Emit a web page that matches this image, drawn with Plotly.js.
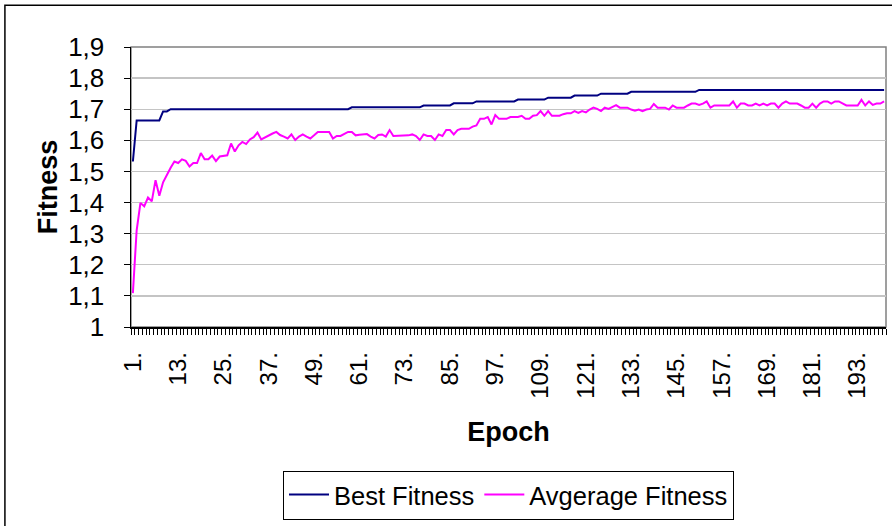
<!DOCTYPE html>
<html>
<head>
<meta charset="utf-8">
<script src="https://cdn.plot.ly/plotly-3.0.1.min.js"></script>
<style>
html,body{margin:0;padding:0;background:#fff;}
#chart{width:892px;height:526px;}
</style>
</head>
<body>
<div id="chart"></div>
<script>
const epochs = Array.from({length: 200}, (_, i) => i + 1);

const bestFitness = [
1.532,1.664,1.664,1.664,1.664,1.664,1.664,1.664,1.693,1.693,
1.700,1.700,1.700,1.700,1.700,1.700,1.700,1.700,1.700,1.700,
1.700,1.700,1.700,1.700,1.700,1.700,1.700,1.700,1.700,1.700,
1.700,1.700,1.700,1.700,1.700,1.700,1.700,1.700,1.700,1.700,
1.700,1.700,1.700,1.700,1.700,1.700,1.700,1.700,1.700,1.700,
1.700,1.700,1.700,1.700,1.700,1.700,1.700,1.700,1.706,1.706,
1.706,1.706,1.706,1.706,1.706,1.706,1.706,1.706,1.706,1.706,
1.706,1.706,1.706,1.706,1.706,1.706,1.706,1.712,1.712,1.712,
1.712,1.712,1.712,1.712,1.712,1.719,1.719,1.719,1.719,1.719,
1.719,1.725,1.725,1.725,1.725,1.725,1.725,1.725,1.725,1.725,
1.725,1.725,1.731,1.731,1.731,1.731,1.731,1.731,1.731,1.731,
1.737,1.737,1.737,1.737,1.737,1.737,1.737,1.744,1.744,1.744,
1.744,1.744,1.744,1.744,1.750,1.750,1.750,1.750,1.750,1.750,
1.750,1.750,1.756,1.756,1.756,1.756,1.756,1.756,1.756,1.756,
1.756,1.756,1.756,1.756,1.756,1.756,1.756,1.756,1.756,1.756,
1.762,1.762,1.762,1.762,1.762,1.762,1.762,1.762,1.762,1.762,
1.762,1.762,1.762,1.762,1.762,1.762,1.762,1.762,1.762,1.762,
1.762,1.762,1.762,1.762,1.762,1.762,1.762,1.762,1.762,1.762,
1.762,1.762,1.762,1.762,1.762,1.762,1.762,1.762,1.762,1.762,
1.762,1.762,1.762,1.762,1.762,1.762,1.762,1.762,1.762,1.762
];

const avgFitness = [
1.109,1.311,1.399,1.388,1.416,1.404,1.472,1.422,1.465,1.491,
1.512,1.532,1.527,1.539,1.534,1.516,1.527,1.527,1.559,1.539,
1.539,1.551,1.533,1.548,1.550,1.552,1.590,1.564,1.584,1.595,
1.588,1.603,1.610,1.625,1.603,1.610,1.616,1.622,1.627,1.617,
1.612,1.606,1.619,1.601,1.612,1.619,1.612,1.606,1.616,1.627,
1.627,1.627,1.627,1.606,1.614,1.614,1.620,1.627,1.627,1.616,
1.618,1.620,1.620,1.612,1.606,1.617,1.619,1.612,1.633,1.614,
1.614,1.614,1.614,1.616,1.619,1.614,1.601,1.619,1.614,1.614,
1.601,1.619,1.614,1.633,1.633,1.619,1.633,1.637,1.637,1.637,
1.644,1.648,1.669,1.669,1.675,1.651,1.681,1.669,1.669,1.669,
1.675,1.675,1.675,1.679,1.669,1.669,1.679,1.681,1.694,1.679,
1.694,1.679,1.679,1.679,1.684,1.687,1.687,1.694,1.688,1.694,
1.690,1.699,1.705,1.701,1.694,1.705,1.701,1.707,1.713,1.705,
1.705,1.705,1.699,1.695,1.699,1.694,1.699,1.701,1.717,1.705,
1.705,1.705,1.699,1.712,1.705,1.705,1.705,1.712,1.718,1.718,
1.714,1.718,1.725,1.705,1.712,1.712,1.712,1.712,1.712,1.725,
1.705,1.718,1.718,1.712,1.712,1.718,1.712,1.718,1.712,1.718,
1.718,1.705,1.718,1.725,1.718,1.718,1.718,1.712,1.705,1.705,
1.718,1.705,1.718,1.725,1.725,1.718,1.725,1.725,1.718,1.712,
1.712,1.712,1.712,1.730,1.712,1.725,1.714,1.718,1.718,1.725
];

const xTickVals = [1,13,25,37,49,61,73,85,97,109,121,133,145,157,169,181,193];
const xTickText = ["1.","13.","25.","37.","49.","61.","73.","85.","97.","109.","121.","133.","145.","157.","169.","181.","193."];
const yTickVals = [1,1.1,1.2,1.3,1.4,1.5,1.6,1.7,1.8,1.9];
const yTickText = ["1","1,1","1,2","1,3","1,4","1,5","1,6","1,7","1,8","1,9"];

const FONT = "Liberation Sans, Arial, sans-serif";

const traces = [
  {x: epochs, y: bestFitness, type: 'scatter', mode: 'lines', name: 'Best Fitness',
   line: {color: '#000080', width: 2}},
  {x: epochs, y: avgFitness, type: 'scatter', mode: 'lines', name: 'Avgerage Fitness',
   line: {color: '#ff00ff', width: 2}}
];

const layout = {
  width: 892, height: 526,
  margin: {l: 131, r: 6, t: 47, b: 197},
  paper_bgcolor: '#fff', plot_bgcolor: '#fff',
  font: {family: FONT, color: '#000', size: 25},
  showlegend: true,
  legend: {
    orientation: 'h', x: 0.5, xanchor: 'center', y: -0.6, yanchor: 'middle',
    bordercolor: '#000', borderwidth: 1, bgcolor: '#fff',
    font: {family: FONT, size: 25.5, color: '#000'},
    itemwidth: 40, tracegroupgap: 0
  },
  xaxis: {
    type: 'linear', range: [0.5, 200.5], autorange: false,
    tickmode: 'array', tickvals: xTickVals, ticktext: xTickText,
    tickangle: -90, ticks: '', showgrid: false, zeroline: false,
    showline: true, linecolor: '#000', linewidth: 1.5,
    ticklabelstandoff: 14,
    tickfont: {family: FONT, size: 24, color: '#000'},
    minor: {tickmode: 'linear', tick0: 0.5, dtick: 1, ticks: 'outside', ticklen: 6, tickcolor: '#000', tickwidth: 1, showgrid: false},
    title: {text: '<b>Epoch</b>', font: {family: FONT, size: 27, color: '#000'}, standoff: 24},
    automargin: false
  },
  yaxis: {
    range: [1, 1.9], autorange: false,
    tickmode: 'array', tickvals: yTickVals, ticktext: yTickText,
    ticks: 'outside', ticklen: 6, tickcolor: '#000', tickwidth: 1,
    ticklabelstandoff: 14,
    showgrid: true, gridcolor: '#c4c4c4', gridwidth: 1.3,
    zeroline: false, showline: true, linecolor: '#000', linewidth: 1.5,
    tickfont: {family: FONT, size: 26, color: '#000'},
    title: {text: '<b>Fitness</b>', font: {family: FONT, size: 27, color: '#000'}, standoff: 2},
    automargin: false
  },
  shapes: [
    {type: 'rect', xref: 'paper', yref: 'paper', x0: 0, x1: 1, y0: 0, y1: 1,
     line: {color: '#808080', width: 1.5}, fillcolor: 'rgba(0,0,0,0)', layer: 'below'},
    {type: 'rect', xref: 'paper', yref: 'paper', x0: -0.167, x1: 1.2, y0: -1.0, y1: 1.149,
     line: {color: '#000', width: 1.5}, fillcolor: 'rgba(0,0,0,0)'}
  ]
};

Plotly.newPlot('chart', traces, layout, {displayModeBar: false, staticPlot: true});
</script>
</body>
</html>
